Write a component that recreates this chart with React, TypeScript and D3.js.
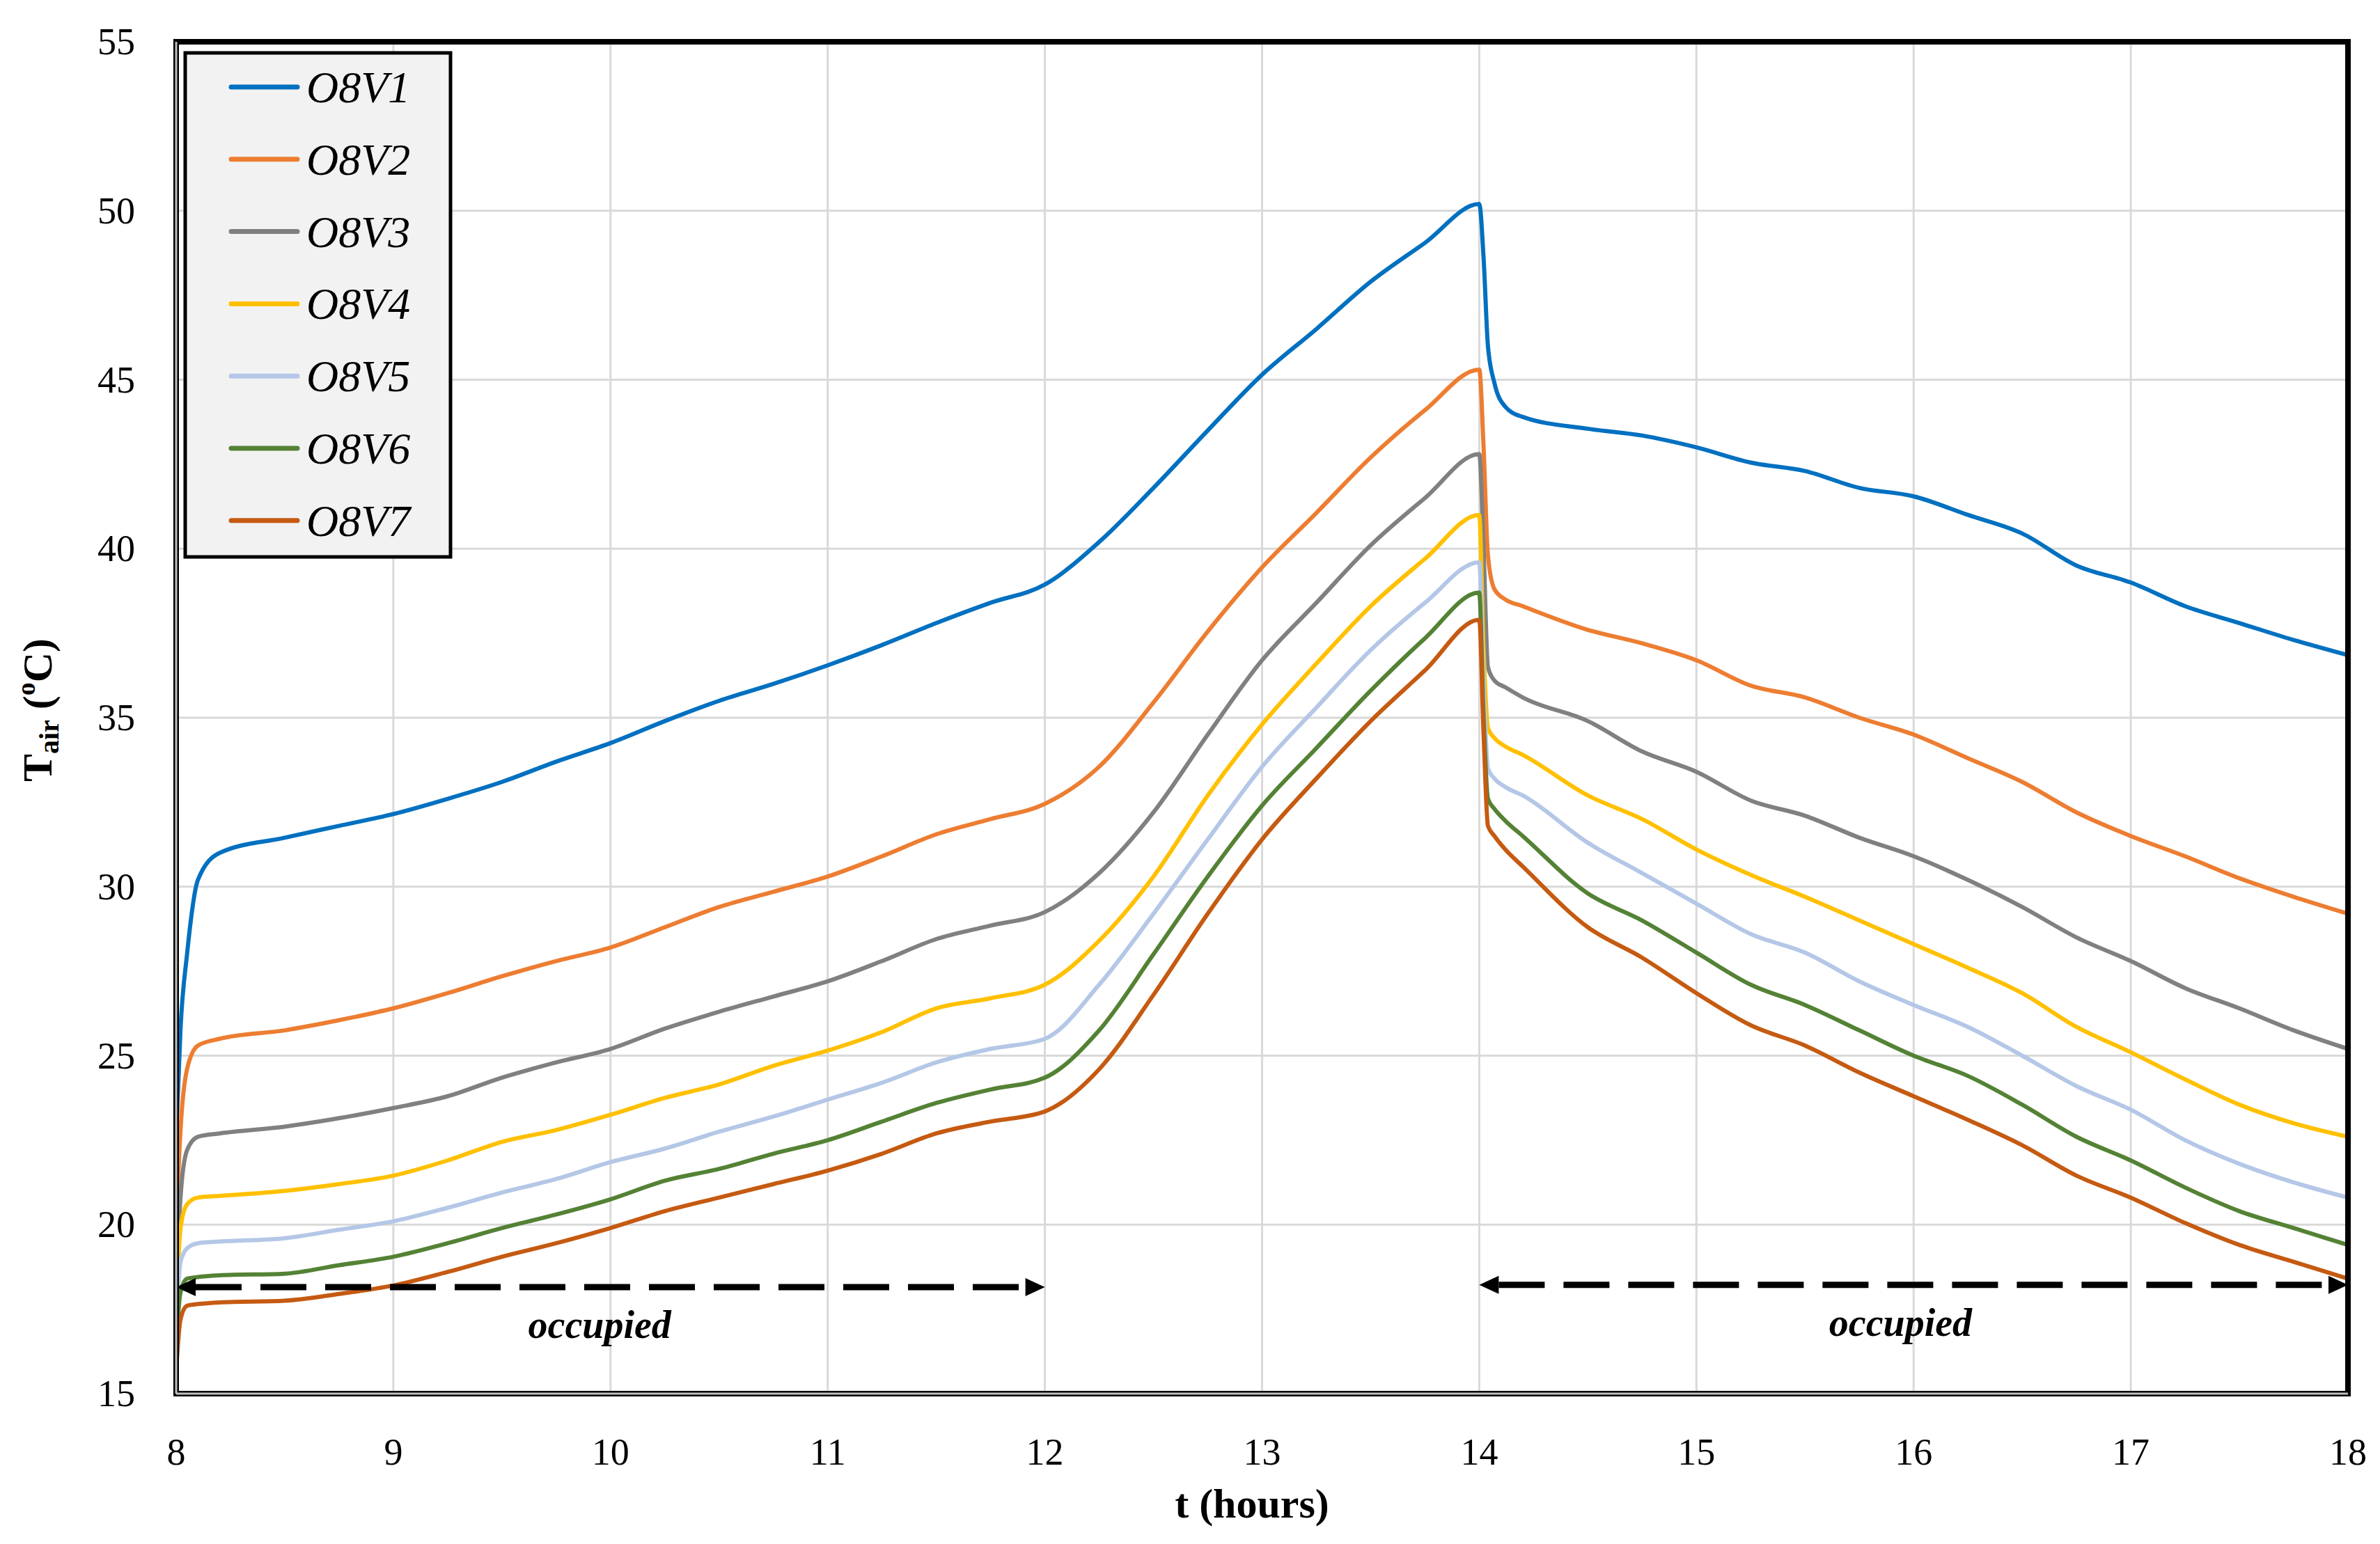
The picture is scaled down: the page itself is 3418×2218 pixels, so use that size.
import React from "react";
import * as d3 from "d3";

const W = 3418;
const H = 2218;

const TIMES = [
  8, 8.02, 8.05, 8.1, 8.2, 8.5, 8.75,
  9, 9.25, 9.5, 9.75, 10, 10.25, 10.5, 10.75, 11, 11.25, 11.5, 11.75,
  12, 12.25, 12.5, 12.75, 13, 13.25, 13.5, 13.75, 14,
  14.02, 14.04, 14.07, 14.12, 14.2,
  14.5, 14.75, 15, 15.25, 15.5, 15.75, 16, 16.25, 16.5, 16.75, 17, 17.25, 17.5, 17.75, 18,
];

const O8V1 = [
  22.6, 25.8, 28.0, 30.2, 31.0, 31.45, 31.8,
  32.15, 32.6, 33.1, 33.7, 34.25, 34.9, 35.5, 36.0, 36.55, 37.15, 37.8, 38.4,
  38.94, 40.2, 41.8, 43.5, 45.15, 46.5, 47.9, 49.05, 50.2,
  48.6, 46.0, 44.9, 44.2, 43.9,
  43.55, 43.35, 43.0, 42.55, 42.3, 41.8, 41.55, 41.0, 40.45, 39.5, 39.0, 38.3, 37.8, 37.3, 36.85,
];
const O8V2 = [
  19.9, 22.8, 24.6, 25.3, 25.5, 25.75, 26.05,
  26.4, 26.85, 27.35, 27.8, 28.2, 28.8, 29.4, 29.85, 30.3, 30.9, 31.55, 32.0,
  32.45, 33.55, 35.45, 37.55, 39.45, 41.06, 42.7, 44.1, 45.3,
  43.0, 39.8, 38.8, 38.5, 38.3,
  37.6, 37.2, 36.7, 35.95, 35.6, 35.0, 34.5, 33.8, 33.1, 32.2, 31.5, 30.9, 30.25, 29.7, 29.2,
];
const O8V3 = [
  18.0, 20.8, 22.2, 22.6, 22.7, 22.9, 23.15,
  23.45, 23.8, 24.35, 24.8, 25.2, 25.8, 26.3, 26.75, 27.2, 27.8, 28.45, 28.85,
  29.25, 30.4, 32.2, 34.5, 36.7, 38.4, 40.1, 41.5, 42.8,
  40.0, 36.5, 36.1, 35.9, 35.6,
  34.9, 34.0, 33.4, 32.55, 32.1, 31.45, 30.9, 30.2, 29.4, 28.5, 27.8, 27.0, 26.4, 25.75, 25.2,
];
const O8V4 = [
  17.5, 19.9, 20.6, 20.8, 20.85, 21.0, 21.2,
  21.45, 21.9, 22.45, 22.8, 23.25, 23.75, 24.15, 24.7, 25.15, 25.7, 26.4, 26.7,
  27.1, 28.4, 30.3, 32.7, 34.8, 36.6, 38.3, 39.7, 41.0,
  37.0, 34.7, 34.4, 34.15, 33.9,
  32.7, 32.0, 31.1, 30.35, 29.7, 29.0, 28.3, 27.6, 26.85, 25.85, 25.1, 24.3, 23.55, 23.0, 22.6,
];
const O8V5 = [
  17.0, 18.9, 19.3, 19.45, 19.5, 19.6, 19.85,
  20.1, 20.5, 20.95, 21.35, 21.85, 22.25, 22.75, 23.2, 23.7, 24.2, 24.8, 25.2,
  25.5, 27.1, 29.2, 31.4, 33.55, 35.3, 37.0, 38.4, 39.6,
  36.0, 33.5, 33.2, 32.95, 32.7,
  31.3, 30.4, 29.5, 28.6, 28.05, 27.2, 26.5, 25.85, 25.0, 24.1, 23.4, 22.5, 21.8, 21.25, 20.8,
];
const O8V6 = [
  16.5, 18.0, 18.4, 18.45, 18.5, 18.55, 18.8,
  19.05, 19.45, 19.9, 20.3, 20.75, 21.3, 21.65, 22.1, 22.5, 23.05, 23.6, 24.0,
  24.35, 25.75, 28.0, 30.3, 32.4, 34.1, 35.8, 37.35, 38.7,
  35.0, 32.6, 32.3, 31.95, 31.5,
  29.8, 29.0, 28.05, 27.1, 26.5, 25.75, 25.0, 24.4, 23.55, 22.6, 21.9, 21.1, 20.4, 19.9, 19.4,
];
const O8V7 = [
  15.7, 17.2, 17.6, 17.65, 17.7, 17.75, 17.95,
  18.2, 18.6, 19.05, 19.45, 19.9, 20.4, 20.8, 21.2, 21.6, 22.1, 22.7, 23.05,
  23.35, 24.6, 26.8, 29.2, 31.4, 33.2, 34.9, 36.4, 37.9,
  34.5, 31.8, 31.5, 31.1, 30.6,
  28.8, 27.9, 26.85, 25.9, 25.3, 24.5, 23.8, 23.1, 22.35, 21.45, 20.8, 20.05, 19.4, 18.9, 18.4,
];

const SERIES_NAMES = ["O8V1", "O8V2", "O8V3", "O8V4", "O8V5", "O8V6", "O8V7"];
const SERIES_VALUES = [O8V1, O8V2, O8V3, O8V4, O8V5, O8V6, O8V7];
const SERIES_COLORS = ["#0070C0", "#ED7D31", "#808080", "#FFC000", "#B4C7E7", "#548235", "#C55A11"];

const X_TICKS = [8, 9, 10, 11, 12, 13, 14, 15, 16, 17, 18];
const Y_TICKS = [15, 20, 25, 30, 35, 40, 45, 50, 55];

const OCC_START = [8, 14];
const OCC_END = [12, 18];
const OCC_LEVEL = [18.15, 18.22];
const OCC_LABEL_T = [9.95, 15.94];
const OCC_LABEL_TEXT = "occupied";

const PL = 253;
const PR = 3372;
const PT = 60;
const PB = 2002;

const SERIF = "'Liberation Serif', 'Times New Roman', serif";

export default function App() {
  const x = d3.scaleLinear().domain([8, 18]).range([PL, PR]);
  const y = d3.scaleLinear().domain([15, 55]).range([PB, PT]);

  const line = d3
    .line<number>()
    .x((_, i) => x(TIMES[i]))
    .y((v) => y(v))
    .curve(d3.curveMonotoneX);

  const legendX = 266;
  const legendY = 76;
  const legendW = 381;
  const legendH = 724;
  const rowStart = 125;
  const rowStep = 103.8;

  return (
    <svg
      width={W}
      height={H}
      style={{ position: "absolute", left: 0, top: 0, background: "#fff" }}
      fontFamily={SERIF}
    >
      <rect x={0} y={0} width={W} height={H} fill="#fff" />
      {X_TICKS.map((t) => (
        <line key={"gx" + t} x1={x(t)} x2={x(t)} y1={PT} y2={PB} stroke="#d9d9d9" strokeWidth={3} />
      ))}
      {Y_TICKS.map((v) => (
        <line key={"gy" + v} x1={PL} x2={PR} y1={y(v)} y2={y(v)} stroke="#d9d9d9" strokeWidth={3} />
      ))}

      {SERIES_VALUES.map((vals, i) => (
        <path
          key={SERIES_NAMES[i]}
          d={line(vals) || ""}
          fill="none"
          stroke={SERIES_COLORS[i]}
          strokeWidth={6}
          strokeLinejoin="round"
          strokeLinecap="round"
        />
      ))}

      {OCC_START.map((s, i) => {
        const x0 = x(s);
        const x1 = x(OCC_END[i]);
        const yy = y(OCC_LEVEL[i]);
        const hl = 28;
        const hw = 13;
        return (
          <g key={"occ" + i}>
            <line
              x1={x0 + hl}
              x2={x1 - hl}
              y1={yy}
              y2={yy}
              stroke="#000"
              strokeWidth={9}
              strokeDasharray="66 27"
            />
            <path d={`M${x0},${yy} L${x0 + hl},${yy - hw} L${x0 + hl},${yy + hw} Z`} fill="#000" />
            <path d={`M${x1},${yy} L${x1 - hl},${yy - hw} L${x1 - hl},${yy + hw} Z`} fill="#000" />
            <text
              x={x(OCC_LABEL_T[i])}
              y={yy + 73}
              textAnchor="middle"
              fontSize={56}
              fontStyle="italic"
              fontWeight="bold"
            >
              {OCC_LABEL_TEXT}
            </text>
          </g>
        );
      })}

      <rect x={PL} y={PT} width={PR - PL} height={PB - PT} fill="none" stroke="#000" strokeWidth={8} />
      <line x1={PL} x2={PL} y1={PT} y2={PB} stroke="#bfbfbf" strokeWidth={3} />
      <line x1={PL} x2={PR} y1={PB} y2={PB} stroke="#bfbfbf" strokeWidth={3} />

      <rect x={legendX} y={legendY} width={legendW} height={legendH} fill="#f2f2f2" stroke="#000" strokeWidth={5} />
      {SERIES_NAMES.map((n, i) => {
        const cy = rowStart + i * rowStep;
        return (
          <g key={"lg" + n}>
            <line x1={332} x2={427} y1={cy} y2={cy} stroke={SERIES_COLORS[i]} strokeWidth={7} strokeLinecap="round" />
            <text x={440} y={cy + 22} fontSize={64} fontStyle="italic">
              {n}
            </text>
          </g>
        );
      })}

      {X_TICKS.map((t) => (
        <text key={"tx" + t} x={x(t)} y={2104} textAnchor="middle" fontSize={54}>
          {t}
        </text>
      ))}
      {Y_TICKS.map((v) => (
        <text key={"ty" + v} x={194} y={y(v) + 18} textAnchor="end" fontSize={54}>
          {v}
        </text>
      ))}

      <text x={1798} y={2180} textAnchor="middle" fontSize={60} fontWeight="bold">
        t (hours)
      </text>
      <text transform="translate(74,1020) rotate(-90)" textAnchor="middle" fontSize={60} fontWeight="bold">
        T<tspan fontSize={40} dy={10}>air</tspan>
        <tspan dy={-10}> (</tspan>
        <tspan fontSize={38} dy={-24}>o</tspan>
        <tspan dy={24}>C)</tspan>
      </text>
    </svg>
  );
}
